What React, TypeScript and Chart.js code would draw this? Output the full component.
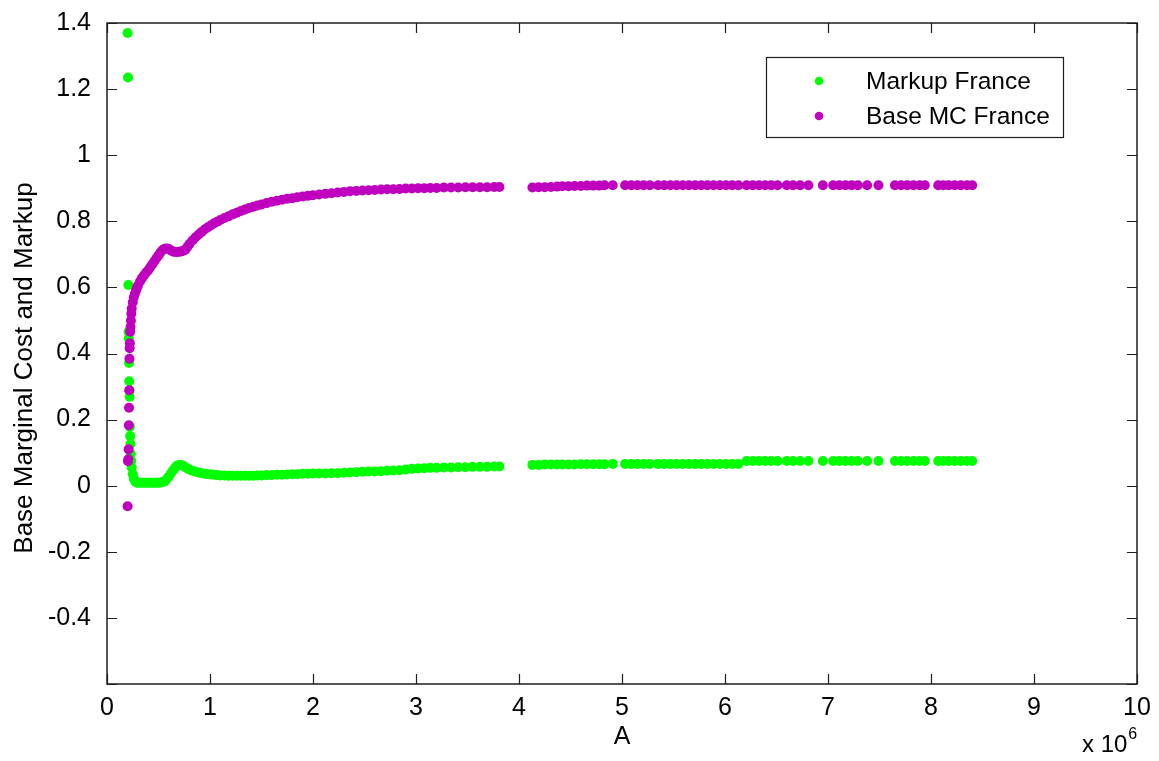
import React, { useEffect, useRef } from 'react';
import { Chart, registerables } from 'chart.js';

Chart.register(...registerables);

// ---------- data (A in units of 10^6) ----------
const A_VALUES = [
  0.200, 0.204, 0.207, 0.210, 0.212, 0.214, 0.216, 0.218, 0.220, 0.222, 0.225, 0.228, 0.232, 0.236,
  0.24, 0.25, 0.26, 0.27, 0.28, 0.29, 0.30, 0.32, 0.34, 0.36, 0.38, 0.40, 0.42, 0.44, 0.46, 0.48,
  0.50, 0.52, 0.54, 0.56, 0.58, 0.60, 0.62, 0.64, 0.66, 0.68, 0.70, 0.72, 0.74, 0.76, 0.78, 0.80,
  0.83, 0.86, 0.89, 0.92, 0.95, 0.98, 1.01, 1.04, 1.07, 1.10, 1.14, 1.18, 1.22, 1.26, 1.30, 1.34,
  1.38, 1.42, 1.46, 1.50, 1.55, 1.60, 1.65, 1.70, 1.75, 1.80, 1.85, 1.90, 1.95, 2.00, 2.06, 2.12,
  2.18, 2.24, 2.30, 2.36, 2.42, 2.48, 2.54, 2.60, 2.66, 2.72, 2.78, 2.84, 2.90, 2.96, 3.02, 3.08,
  3.14, 3.20, 3.27, 3.34, 3.41, 3.48, 3.55, 3.62, 3.69, 3.76, 3.81,
  4.13, 4.19, 4.25, 4.31, 4.37, 4.42, 4.48, 4.54, 4.60, 4.66, 4.72, 4.78, 4.83, 4.91, 5.03, 5.09,
  5.15, 5.21, 5.27, 5.35, 5.41, 5.47, 5.53, 5.59, 5.65, 5.71, 5.77, 5.83, 5.89, 5.95, 6.01, 6.07,
  6.13, 6.21, 6.27, 6.33, 6.39, 6.45, 6.51, 6.60, 6.66, 6.73, 6.81, 6.95, 7.05, 7.11, 7.17, 7.23,
  7.29, 7.38, 7.49, 7.65, 7.71, 7.77, 7.83, 7.89, 7.94, 8.07, 8.12, 8.17, 8.23, 8.29, 8.35, 8.40,
];

const MARKUP_FRANCE = [
  1.370, 1.235, 0.607, 0.466, 0.446, 0.371, 0.316, 0.289, 0.269, 0.178, 0.150, 0.126, 0.096, 0.075,
  0.055, 0.035, 0.022, 0.015, 0.011, 0.010, 0.009, 0.009, 0.009, 0.009, 0.009, 0.009, 0.009, 0.009, 0.009, 0.009,
  0.009, 0.010, 0.011, 0.013, 0.020, 0.028, 0.037, 0.046, 0.054, 0.060, 0.063, 0.063, 0.060, 0.056, 0.052, 0.049,
  0.045, 0.042, 0.040, 0.038, 0.036, 0.035, 0.034, 0.033, 0.032, 0.031, 0.031, 0.030, 0.030, 0.030, 0.030, 0.030,
  0.030, 0.030, 0.031, 0.031, 0.032, 0.032, 0.033, 0.033, 0.034, 0.035, 0.035, 0.036, 0.036, 0.037, 0.037, 0.037,
  0.038, 0.038, 0.039, 0.040, 0.041, 0.042, 0.043, 0.043, 0.044, 0.045, 0.046, 0.047, 0.049, 0.051, 0.052, 0.053,
  0.054, 0.054, 0.055, 0.055, 0.056, 0.056, 0.057, 0.057, 0.057, 0.058, 0.058,
  0.063, 0.063, 0.064, 0.064, 0.064, 0.064, 0.064, 0.064, 0.065, 0.065, 0.065, 0.065, 0.065, 0.066, 0.066, 0.066,
  0.066, 0.066, 0.066, 0.066, 0.066, 0.066, 0.066, 0.066, 0.066, 0.066, 0.066, 0.066, 0.066, 0.066, 0.066, 0.066,
  0.066, 0.075, 0.075, 0.075, 0.075, 0.075, 0.075, 0.075, 0.075, 0.075, 0.075, 0.075, 0.075, 0.075, 0.075, 0.075,
  0.075, 0.075, 0.075, 0.075, 0.075, 0.075, 0.075, 0.075, 0.075, 0.075, 0.075, 0.075, 0.075, 0.075, 0.075, 0.075,
];

const BASE_MC_FRANCE = [
  -0.062, 0.074, 0.080, 0.110, 0.183, 0.236, 0.289, 0.384, 0.416, 0.431, 0.466, 0.480, 0.500, 0.520,
  0.536, 0.555, 0.570, 0.580, 0.590, 0.598, 0.605, 0.618, 0.628, 0.637, 0.645, 0.652, 0.661, 0.670, 0.679, 0.688,
  0.697, 0.706, 0.713, 0.717, 0.718, 0.716, 0.712, 0.709, 0.707, 0.707, 0.708, 0.709, 0.711, 0.714, 0.722, 0.731,
  0.742, 0.752, 0.760, 0.768, 0.776, 0.782, 0.788, 0.794, 0.799, 0.804, 0.810, 0.815, 0.821, 0.826, 0.831, 0.836,
  0.840, 0.844, 0.848, 0.851, 0.855, 0.859, 0.862, 0.865, 0.868, 0.870, 0.873, 0.875, 0.877, 0.879, 0.881, 0.883,
  0.885, 0.887, 0.889, 0.891, 0.892, 0.893, 0.894, 0.895, 0.896, 0.897, 0.897, 0.898, 0.899, 0.899, 0.900, 0.900,
  0.901, 0.901, 0.902, 0.902, 0.902, 0.903, 0.903, 0.903, 0.903, 0.904, 0.904,
  0.902, 0.903, 0.903, 0.904, 0.905, 0.906, 0.906, 0.907, 0.907, 0.908, 0.908, 0.908, 0.909, 0.909, 0.909, 0.909,
  0.909, 0.909, 0.909, 0.909, 0.909, 0.909, 0.909, 0.909, 0.909, 0.909, 0.909, 0.909, 0.909, 0.909, 0.909, 0.909,
  0.909, 0.909, 0.909, 0.909, 0.909, 0.909, 0.909, 0.909, 0.909, 0.909, 0.909, 0.909, 0.909, 0.909, 0.909, 0.909,
  0.909, 0.909, 0.909, 0.909, 0.909, 0.909, 0.909, 0.909, 0.909, 0.909, 0.909, 0.909, 0.909, 0.909, 0.909, 0.909,
];

const SERIES_LABELS = ['Markup France', 'Base MC France'];
const X_TITLE = 'A';
const Y_TITLE = 'Base Marginal Cost and Markup';
const X_EXPONENT = '6';
const X_MIN = 0, X_MAX = 10, X_STEP = 1;
const Y_MIN = -0.6, Y_MAX = 1.4, Y_STEP = 0.2;

// ---------- styling ----------
const W = 1159, H = 761;
const FONT = "'Liberation Sans', Arial, Helvetica, sans-serif";
const GREEN = '#00ff00';
const MAGENTA = '#bf00bf';
const AXIS = '#1e1e1e';

function zip(xs: number[], ys: number[]) {
  return xs.map((x, i) => ({ x, y: ys[i] }));
}

const framePlugin = {
  id: 'matlabFrame',
  afterDraw(chart: any) {
    const { ctx, chartArea: ca, scales } = chart;
    const xs = scales.x, ys = scales.y;
    ctx.save();
    ctx.strokeStyle = AXIS;
    ctx.lineWidth = 1.5;
    ctx.strokeRect(ca.left, ca.top, ca.right - ca.left, ca.bottom - ca.top);
    const tl = 10;
    ctx.beginPath();
    xs.ticks.forEach((t: any) => {
      const px = Math.round(xs.getPixelForValue(t.value)) + 0.5;
      ctx.moveTo(px, ca.bottom); ctx.lineTo(px, ca.bottom - tl);
      ctx.moveTo(px, ca.top); ctx.lineTo(px, ca.top + tl);
    });
    ys.ticks.forEach((t: any) => {
      const py = Math.round(ys.getPixelForValue(t.value)) + 0.5;
      ctx.moveTo(ca.left, py); ctx.lineTo(ca.left + tl, py);
      ctx.moveTo(ca.right, py); ctx.lineTo(ca.right - tl, py);
    });
    ctx.lineWidth = 1.2;
    ctx.stroke();

    // y axis title
    ctx.fillStyle = '#000';
    ctx.save();
    ctx.translate(25, 368);
    ctx.rotate(-Math.PI / 2);
    ctx.font = `26px ${FONT}`;
    ctx.textAlign = 'center';
    ctx.textBaseline = 'middle';
    ctx.fillText(Y_TITLE, 0, 0);
    ctx.restore();

    // exponent label
    ctx.textBaseline = 'alphabetic';
    ctx.textAlign = 'left';
    ctx.font = `24px ${FONT}`;
    ctx.fillText('x 10', 1082, 752);
    const w = ctx.measureText('x 10').width;
    ctx.font = `16px ${FONT}`;
    ctx.fillText(X_EXPONENT, 1082 + w + 1, 739);

    // legend box
    const lx = 766, ly = 57, lw = 297, lh = 80;
    ctx.fillStyle = '#fff';
    ctx.fillRect(lx, ly, lw, lh);
    ctx.strokeStyle = AXIS;
    ctx.lineWidth = 1.2;
    ctx.strokeRect(lx + 0.5, ly + 0.5, lw, lh);
    const rows = [81, 116];
    chart.data.datasets.forEach((ds: any, i: number) => {
      ctx.fillStyle = ds.backgroundColor;
      ctx.beginPath();
      ctx.arc(819, rows[i], 4.3, 0, Math.PI * 2);
      ctx.fill();
      ctx.fillStyle = '#000';
      ctx.font = `24.5px ${FONT}`;
      ctx.textBaseline = 'middle';
      ctx.fillText(ds.label, 866, rows[i] + 1);
    });
    ctx.restore();
  },
};

export default function App() {
  const ref = useRef<HTMLCanvasElement | null>(null);
  useEffect(() => {
    if (!ref.current) return;
    const chart = new Chart(ref.current, {
      type: 'scatter',
      data: {
        datasets: [
          {
            label: SERIES_LABELS[0],
            data: zip(A_VALUES, MARKUP_FRANCE),
            backgroundColor: GREEN,
            borderWidth: 0,
            pointRadius: 5,
            order: 2,
          },
          {
            label: SERIES_LABELS[1],
            data: zip(A_VALUES, BASE_MC_FRANCE),
            backgroundColor: MAGENTA,
            borderWidth: 0,
            pointRadius: 5,
            order: 1,
          },
        ],
      },
      options: {
        animation: false,
        responsive: false,
        devicePixelRatio: 1,
        layout: { padding: { top: 20, right: 22, left: 0, bottom: 0 } },
        plugins: { legend: { display: false }, tooltip: { enabled: false } },
        scales: {
          x: {
            type: 'linear',
            min: X_MIN,
            max: X_MAX,
            grid: { display: false },
            border: { display: false },
            ticks: { stepSize: X_STEP, color: '#000', font: { family: FONT, size: 25 }, padding: 1, maxRotation: 0 },
            title: { display: true, text: X_TITLE, color: '#000', font: { family: FONT, size: 25 }, padding: { top: 0, bottom: 9 } },
            afterFit: (s: any) => { s.height = 77; },
          },
          y: {
            type: 'linear',
            min: Y_MIN,
            max: Y_MAX,
            grid: { display: false },
            border: { display: false },
            ticks: {
              stepSize: Y_STEP,
              color: '#000',
              font: { family: FONT, size: 25 },
              padding: 8,
              callback: (v: any) => (Math.abs(v - Y_MIN) < 1e-9 ? '' : String(Number(Number(v).toFixed(1)))),
            },
            afterFit: (s: any) => { s.width = 107; },
          },
        },
      },
      plugins: [framePlugin],
    });
    return () => chart.destroy();
  }, []);
  return (
    <div style={{ position: 'fixed', left: 0, top: 0, width: W, height: H, background: '#fff' }}>
      <canvas ref={ref} width={W} height={H} style={{ width: W, height: H, display: 'block' }} />
    </div>
  );
}
